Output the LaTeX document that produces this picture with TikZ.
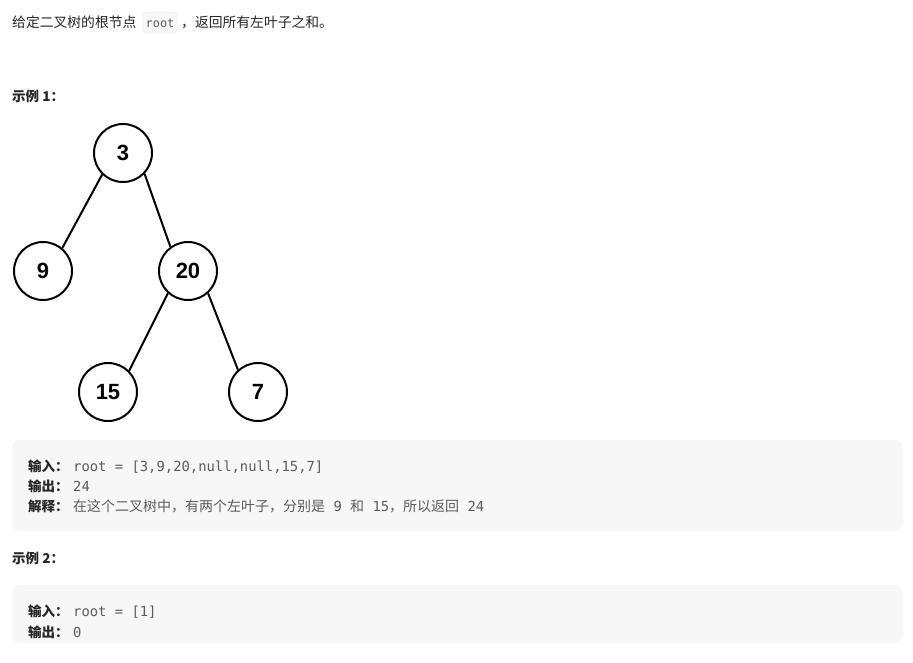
\documentclass[tikz,border=0pt]{standalone}
\usepackage{fontspec}
\setmainfont{Noto Sans CJK SC}
\setmonofont{DejaVu Sans Mono}
\newfontfamily\treefont{Liberation Sans}
\definecolor{ink}{HTML}{262626}
\definecolor{codegray}{HTML}{5C5C5C}
\definecolor{boxfill}{HTML}{F7F7F8}
\definecolor{codeline}{HTML}{E6E6E6}

\begin{document}
\begin{tikzpicture}[x=1pt,y=-1pt,
		treenode/.style={circle,draw=black,line width=2pt,minimum size=58pt,inner sep=0pt,font=\treefont\bfseries\fontsize{22}{22}\selectfont},
		txt/.style={anchor=base west,inner sep=0pt,text=ink,font=\fontsize{13.8}{16}\selectfont},
		lbl/.style={anchor=base west,inner sep=0pt,text=ink,font=\bfseries\fontsize{13.5}{16}\selectfont},
		val/.style={anchor=base west,inner sep=0pt,text=codegray,font=\fontsize{14}{16}\selectfont},
		mono/.style={font=\ttfamily\fontsize{13.85}{16}\selectfont}]
		\useasboundingbox[fill=white] (0,0) rectangle (913,662);
		% heading
		\draw[fill=boxfill,draw=codeline,rounded corners=3pt] (143,12) rectangle (177,33);
		\node[txt] (intro) at (12,27) {给定二叉树的根节点};
		\node[anchor=base,inner sep=0pt,text=codegray,font=\ttfamily\fontsize{12}{14}\selectfont] (rootcode) at (160,27) {root};
		\node[txt] (intro2) at (181,27) {，返回所有左叶子之和。};
		\node[lbl] (ex1) at (12,101) {示例 1：};
		% tree
		\node[treenode] (n3) at (123,153) {3};
		\node[treenode] (n9) at (43,271) {9};
		\node[treenode] (n20) at (188,271) {20};
		\node[treenode] (n15) at (108,392) {15};
		\node[treenode] (n7) at (258,392) {7};
		\draw[line width=2pt] (n3.226) -- (n9.50);
		\draw[line width=2pt] (n3.316) -- (n20.126);
		\draw[line width=2pt] (n20.228) -- (n15.45);
		\draw[line width=2pt] (n20.312) -- (n7.132);
		% example 1 box
		\fill[boxfill,rounded corners=8pt] (12,440) rectangle (903,531);
		\node[lbl] (in1) at (28,471) {输入：};
		\node[val,mono] (in1v) at (73,471) {root = [3,9,20,null,null,15,7]};
		\node[lbl] (out1) at (28,491) {输出：};
		\node[val,mono] (out1v) at (73,491) {24};
		\node[lbl] (why1) at (28,511) {解释：};
		\node[val] (why1v) at (73,511) {在这个二叉树中，有两个左叶子，分别是{\ttfamily\fontsize{13.85}{16}\selectfont\ 9\ }和{\ttfamily\fontsize{13.85}{16}\selectfont\ 15}，所以返回{\ttfamily\fontsize{13.85}{16}\selectfont\ 24}};
		% example 2
		\node[lbl] (ex2) at (12,563) {示例 2：};
		\fill[boxfill,rounded corners=8pt] (12,585) rectangle (903,643);
		\node[lbl] (in2) at (28,616) {输入：};
		\node[val,mono] (in2v) at (73,616) {root = [1]};
		\node[lbl] (out2) at (28,637) {输出：};
		\node[val,mono] (out2v) at (73,637) {0};
	\end{tikzpicture}
\end{document}
